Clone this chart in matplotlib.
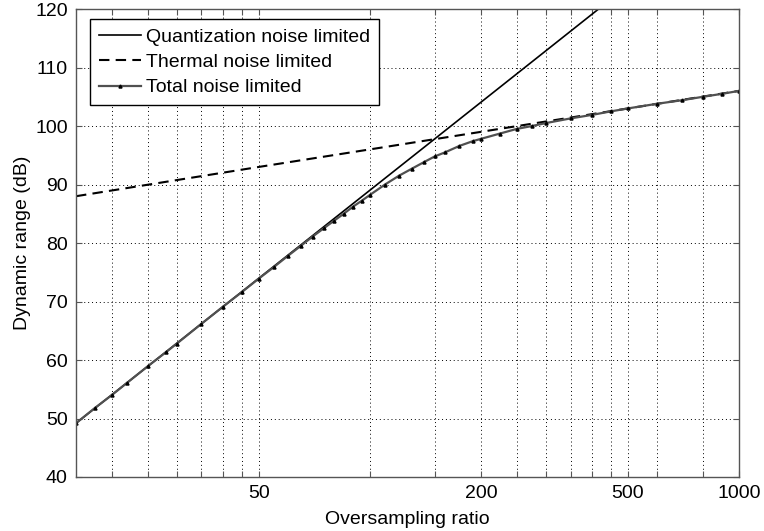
#dynamic range vs oversampling ratio, quantization / thermal / total noise limits

import numpy as np
from matplotlib import pyplot as plt

# values
osr_quant = [16, 50, 100, 200, 414]
dr_quant = [49.2, 73.95, 89.0, 104.05, 119.85]

osr_thermal = [16, 50, 100, 200, 500, 1000]
dr_thermal = [88.0, 93.0, 96.0, 99.0, 103.0, 106.0]

osr_total = [16, 18, 20, 22, 25, 28, 30, 35, 40, 45, 50, 55, 60, 65, 70, 75, 80, 85, 90,
             95, 100, 110, 120, 130, 140, 150, 160, 175, 190, 200, 225, 250, 275, 300,
             350, 400, 450, 500, 600, 700, 800, 900, 1000]
dr_total = [49.2, 51.8, 54.0, 56.1, 58.9, 61.3, 62.8, 66.2, 69.1, 71.6, 73.9, 75.9, 77.8,
            79.5, 81.1, 82.5, 83.8, 85.0, 86.2, 87.2, 88.2, 90.0, 91.5, 92.7, 93.8, 94.8,
            95.5, 96.6, 97.4, 97.8, 98.7, 99.5, 100.0, 100.5, 101.3, 101.9, 102.5,
            103.0, 103.8, 104.4, 105.0, 105.5, 106.0]

xticks = [20, 25, 30, 35, 40, 45, 50, 100, 150, 200, 250, 300, 350, 400, 450, 500,
          600, 800, 1000]
xlabels_shown = [50, 200, 500, 1000]
yticks = [40, 50, 60, 70, 80, 90, 100, 110, 120]

plt.rcParams['font.family'] = ['Liberation Sans', 'DejaVu Sans']
plt.rcParams['font.size'] = 14

fig = plt.figure(figsize=(7.64, 5.31), dpi=100)
ax = fig.add_axes([0.0995, 0.1017, 0.8675, 0.8813])

ax.plot(osr_quant, dr_quant, color='black', lw=1.2, label='Quantization noise limited')
ax.plot(osr_thermal, dr_thermal, color='black', lw=1.5, dashes=(5, 3),
        label='Thermal noise limited')
ax.plot(osr_total, dr_total, color='#505050', lw=1.6, marker='^', ms=2.2,
        mfc='black', mec='black', label='Total noise limited')

ax.set_xscale('log')
ax.set_xlim(16, 1000)
ax.set_ylim(40, 120)
ax.set_xticks(xticks)
ax.set_xticklabels([str(t) if t in xlabels_shown else '' for t in xticks])
ax.xaxis.set_minor_locator(plt.NullLocator())
ax.set_yticks(yticks)

ax.grid(True, which='major', color='black', linestyle=(0, (1, 3)), lw=0.7)
ax.tick_params(direction='in', top=True, right=True, length=4, width=0.8,
               color='#555555', labelsize=14, pad=6)
for s in ax.spines.values():
    s.set_color('#555555')
    s.set_linewidth(1.0)

ax.set_xlabel('Oversampling ratio', fontsize=14, labelpad=6)
ax.set_ylabel('Dynamic range (dB)', fontsize=14, labelpad=3)

leg = ax.legend(loc='upper left', bbox_to_anchor=(0.021, 0.978), borderaxespad=0,
                fancybox=False, framealpha=1, edgecolor='black', fontsize=14,
                handlelength=2.2, handletextpad=0.25, labelspacing=0.4,
                borderpad=0.45)
leg.get_frame().set_linewidth(1.0)

fig.savefig('out.png', dpi=100)
